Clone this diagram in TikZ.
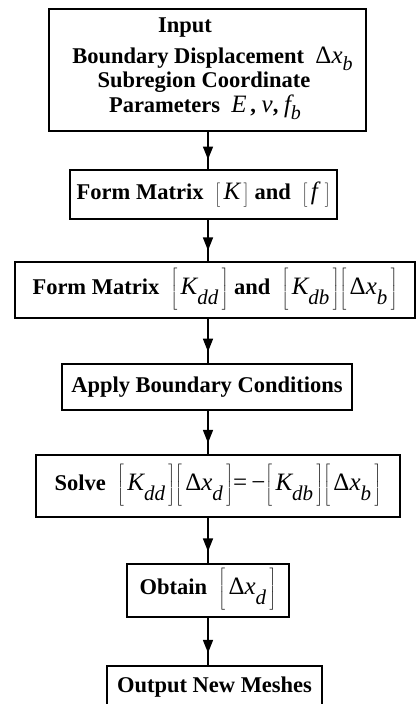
\documentclass[tikz,border=0pt]{standalone}
\usepackage{fontspec}
\setmainfont{Liberation Serif}
\usetikzlibrary{arrows.meta,decorations.markings}
\newcommand\mv[1]{{\fontsize{25}{25}\selectfont\mdseries\itshape #1}}
\newcommand\sbs[1]{\raisebox{-10pt}{\fontsize{21}{21}\selectfont\mdseries\itshape #1}}
\newcommand\sbb[1]{\raisebox{-7pt}{\fontsize{20}{20}\selectfont\mdseries\itshape #1}}
\newcommand\dl{{\fontsize{25}{25}\selectfont\mdseries Δ}}
\newcommand\br[1]{$\left[\rule[-18pt]{0pt}{39pt}\,\mbox{#1}\,\right]$}
\newcommand\sbr[1]{$\left[\rule[-7pt]{0pt}{22pt}\,\mbox{#1}\,\right]$}
\tikzset{
  box/.style={draw, line width=1.4pt, rectangle, inner sep=0pt,
    font=\fontsize{22.5}{27}\selectfont\bfseries},
  lbl/.style={font=\fontsize{22.5}{27}\selectfont\bfseries, inner sep=0pt, anchor=base},
  flow/.style={line width=1.4pt, postaction={decorate},
    decoration={markings, mark=at position 0.74 with {\arrow{Triangle[width=10pt,length=13pt]}}}}
}
\begin{document}
\begin{tikzpicture}[x=1pt,y=-1pt]
\useasboundingbox (0,0) rectangle (417,704);
\coordinate (col) at (208,0);
% box 1
\node[box, minimum width=317, minimum height=122] (in) at (207.5,70) {};
\node[lbl] (t1) at (185,32) {Input};
\node[lbl] (t2) at (212.5,63) {Boundary Displacement \ \dl\mv{x}\sbb{b}};
\node[lbl] (t3) at (204,87) {Subregion Coordinate};
\node[lbl] (t4) at (205,112) {Parameters \ \mv{E}\,, \mv{ν}, \mv{f}\sbb{b}};
% box 2
\node[box, minimum width=267, minimum height=49] (fk) at (203.5,194.5)
  {Form Matrix \ \sbr{\mv{K}} and \ \sbr{\mv{f}\,}};
% box 3
\node[box, minimum width=400, minimum height=56] (fkd) at (215,290)
  {Form Matrix \ \br{\mv{K}\sbs{dd}} and \ \br{\mv{K}\sbs{db}}\br{\dl\mv{x}\sbs{b}}};
% box 4
\node[box, minimum width=290, minimum height=46] (bc) at (207,387)
  {Apply Boundary Conditions};
% box 5
\node[box, minimum width=364, minimum height=62] (sv) at (218,486)
  {Solve \ \br{\mv{K}\sbs{dd}}\br{\dl\mv{x}\sbs{d}}{\fontsize{25}{25}\selectfont\mdseries =\,−}\br{\mv{K}\sbs{db}}\br{\dl\mv{x}\sbs{b}}};
% box 6
\node[box, minimum width=162, minimum height=53] (ob) at (208,590.5)
  {Obtain \ \br{\dl\mv{x}\sbs{d}}};
% box 7
\node[box, minimum width=215, minimum height=42] (out) at (214.5,687)
  {Output New Meshes};
% connectors
\draw[flow] (in.south -| col) -- (fk.north -| col);
\draw[flow] (fk.south -| col) -- (fkd.north -| col);
\draw[flow] (fkd.south -| col) -- (bc.north -| col);
\draw[flow] (bc.south -| col) -- (sv.north -| col);
\draw[flow] (sv.south -| col) -- (ob.north -| col);
\draw[flow] (ob.south -| col) -- (out.north -| col);
\end{tikzpicture}
\end{document}
